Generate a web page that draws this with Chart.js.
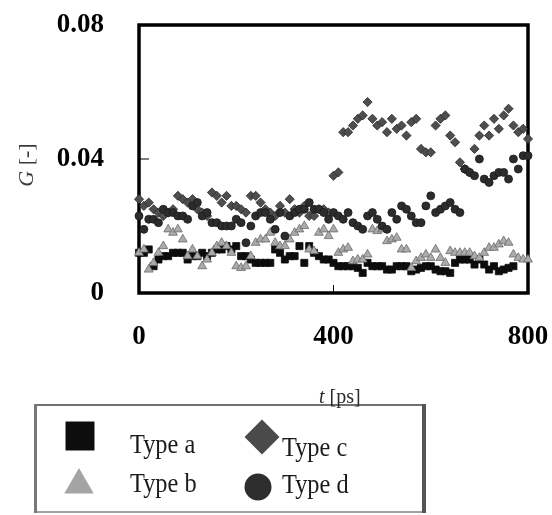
<!DOCTYPE html>
<html lang="en">
<head>
<meta charset="UTF-8">
<title>G vs t</title>
<script src="https://cdn.jsdelivr.net/npm/chart.js"></script>
<style>
    html, body { margin: 0; padding: 0; background: #fff; }
    #wrap { width: 552px; height: 515px; }
</style>
</head>
<body>
<div id="wrap"><canvas id="chart"></canvas></div>
<script>
// time axis [ps], one sample every 10 ps
const tps = [0,10,20,30,40,50,60,70,80,90,100,110,120,130,140,150,160,170,180,190,
    200,210,220,230,240,250,260,270,280,290,300,310,320,330,340,350,360,370,380,390,
    400,410,420,430,440,450,460,470,480,490,500,510,520,530,540,550,560,570,580,590,
    600,610,620,630,640,650,660,670,680,690,700,710,720,730,740,750,760,770,780,790,800];

// G [-] (type a stops at 770 ps)
const typeA = [0.012,0.012,0.013,0.008,0.010,0.011,0.011,0.012,0.012,0.012,
    0.010,0.011,0.011,0.012,0.011,0.012,0.013,0.013,0.014,0.013,
    0.014,0.011,0.011,0.010,0.009,0.009,0.009,0.009,0.013,0.012,
    0.010,0.011,0.011,0.014,0.009,0.014,0.012,0.011,0.010,0.010,
    0.009,0.008,0.008,0.008,0.008,0.0075,0.006,0.009,0.008,0.008,
    0.008,0.007,0.007,0.008,0.008,0.008,0.0065,0.007,0.0075,0.008,
    0.008,0.007,0.0065,0.0065,0.006,0.009,0.010,0.010,0.010,0.0085,
    0.010,0.0085,0.007,0.008,0.0065,0.007,0.0075,0.008];
const typeB = [0.012,0.013,0.007,0.009,0.012,0.014,0.019,0.018,0.019,0.016,
    0.011,0.013,0.011,0.008,0.010,0.012,0.014,0.015,0.014,0.012,
    0.008,0.0075,0.008,0.011,0.015,0.016,0.016,0.018,0.015,0.014,
    0.014,0.016,0.018,0.019,0.020,0.013,0.0125,0.018,0.019,0.017,
    0.019,0.012,0.013,0.0135,0.0095,0.010,0.010,0.0115,0.019,0.0185,
    0.019,0.0155,0.016,0.0165,0.013,0.013,0.0075,0.0095,0.0105,0.0115,
    0.0105,0.013,0.0105,0.009,0.0125,0.012,0.012,0.012,0.012,0.011,
    0.0105,0.012,0.0135,0.0135,0.0145,0.0155,0.015,0.0115,0.0105,0.010,0.010];
const typeC = [0.028,0.026,0.027,0.025,0.024,0.023,0.024,0.025,
    0.029,0.028,0.027,0.028,0.025,0.024,0.023,0.030,
    0.029,0.027,0.029,0.026,0.026,0.025,0.024,0.029,
    0.029,0.027,0.025,0.024,0.023,0.026,0.024,0.028,
    0.025,0.024,0.026,0.023,0.023,0.025,0.025,0.024,
    0.035,0.036,0.048,0.048,0.050,0.052,0.053,0.057,
    0.052,0.050,0.051,0.048,0.052,0.049,0.050,0.047,
    0.051,0.052,0.043,0.042,0.042,0.050,0.052,0.053,
    0.047,0.045,0.039,0.037,0.036,0.043,0.047,0.050,
    0.047,0.052,0.049,0.053,0.055,0.050,0.048,0.049,0.046];
const typeD = [0.023,0.019,0.022,0.022,0.021,0.025,0.024,0.024,
    0.023,0.023,0.022,0.026,0.027,0.023,0.024,0.021,
    0.021,0.020,0.020,0.020,0.022,0.021,0.015,0.020,
    0.023,0.024,0.024,0.022,0.019,0.024,0.017,0.023,
    0.024,0.025,0.025,0.027,0.025,0.025,0.024,0.022,
    0.024,0.023,0.022,0.024,0.021,0.020,0.019,0.023,
    0.024,0.022,0.020,0.019,0.024,0.022,0.026,0.025,
    0.023,0.021,0.021,0.026,0.029,0.024,0.025,0.026,
    0.027,0.025,0.024,0.037,0.036,0.035,0.040,0.034,
    0.033,0.035,0.036,0.036,0.034,0.040,0.037,0.041,0.041];

const xTicks = [0, 400, 800];
const yTicks = [0, 0.04, 0.08];
const seriesNames = ['Type a', 'Type b', 'Type c', 'Type d'];

const serif = 'Liberation Serif, Times New Roman, serif';

function pts(vals) {
    return vals.map((g, i) => ({ x: tps[i], y: g }));
}

const styles = [
    { pointStyle: 'rect', r: 5, bg: '#0d0d0d', bd: '#0d0d0d', order: 4 },
    { pointStyle: 'triangle', r: 5.1, bg: '#ababab', bd: '#6a6a6a', order: 3 },
    { pointStyle: 'rectRot', r: 4.6, bg: '#4e4e4e', bd: '#2a2a2a', order: 2 },
    { pointStyle: 'circle', r: 4, bg: '#2c2c2c', bd: '#1a1a1a', order: 1 }
];
const series = [typeA, typeB, typeC, typeD];

// frame + inward tick marks
const framePlugin = {
    id: 'frame',
    beforeDatasetsDraw(chart) {
        const { ctx, chartArea: a, scales } = chart;
        ctx.save();
        ctx.strokeStyle = '#000';
        ctx.lineWidth = 1;
        const yMid = scales.y.getPixelForValue(0.04);
        ctx.beginPath();
        ctx.moveTo(a.left, yMid);
        ctx.lineTo(a.left + 10, yMid);
        const xMid = scales.x.getPixelForValue(400);
        ctx.moveTo(xMid, a.bottom);
        ctx.lineTo(xMid, a.bottom - 8);
        ctx.stroke();
        ctx.lineWidth = 3.5;
        ctx.strokeRect(a.left, a.top, a.right - a.left, a.bottom - a.top);
        ctx.restore();
    },
    afterDraw(chart) {
        const ctx = chart.ctx;
        ctx.save();
        // y title: italic G + " [-]"
        ctx.fillStyle = '#3a3a3a';
        ctx.translate(33, 165);
        ctx.rotate(-Math.PI / 2);
        ctx.font = 'italic 22px ' + serif;
        const wG = ctx.measureText('G').width;
        ctx.font = '22px ' + serif;
        const wR = ctx.measureText(' [-]').width;
        let x0 = -(wG + wR) / 2;
        ctx.textBaseline = 'alphabetic';
        ctx.font = 'italic 22px ' + serif;
        ctx.fillText('G', x0, 0);
        ctx.font = '22px ' + serif;
        ctx.fillText(' [-]', x0 + wG, 0);
        ctx.restore();

        // legend box
        ctx.save();
        ctx.strokeStyle = '#707070';
        ctx.lineWidth = 2;
        ctx.beginPath(); ctx.moveTo(34, 405); ctx.lineTo(426, 405); ctx.stroke();
        ctx.strokeStyle = '#a0a0a0';
        ctx.beginPath(); ctx.moveTo(34, 512); ctx.lineTo(426, 512); ctx.stroke();
        ctx.lineWidth = 3;
        ctx.strokeStyle = '#777';
        ctx.beginPath(); ctx.moveTo(35.5, 404); ctx.lineTo(35.5, 513); ctx.stroke();
        ctx.lineWidth = 4;
        ctx.strokeStyle = '#555';
        ctx.beginPath(); ctx.moveTo(424, 404); ctx.lineTo(424, 513); ctx.stroke();

        // x title: italic t + " [ps]"
        ctx.fillStyle = '#2a2a2a';
        ctx.font = 'italic 20px ' + serif;
        ctx.fillText('t', 319, 403);
        const wt = ctx.measureText('t').width;
        ctx.font = '20px ' + serif;
        ctx.fillText(' [ps]', 319 + wt, 403);

        const marks = [
            { x: 80, y: 436, r: 20.5 },
            { x: 79, y: 485, r: 17 },
            { x: 262, y: 437, r: 17.5 },
            { x: 258, y: 487, r: 13.5 }
        ];
        const labels = [
            { x: 130, y: 453 },
            { x: 130, y: 492 },
            { x: 282, y: 456 },
            { x: 282, y: 493 }
        ];
        const legendFill = ['#0d0d0d', '#a4a4a4', '#4a4a4a', '#2e2e2e'];
        marks.forEach((m, i) => {
            ctx.fillStyle = legendFill[i];
            ctx.strokeStyle = styles[i].bd;
            Chart.helpers.drawPoint(ctx, {
                pointStyle: styles[i].pointStyle, rotation: 0, radius: m.r, borderWidth: 0
            }, m.x, m.y);
        });
        ctx.fillStyle = '#1a1a1a';
        ctx.font = '28px ' + serif;
        labels.forEach((l, i) => {
            ctx.save();
            ctx.translate(l.x, l.y);
            ctx.scale(0.87, 1);
            ctx.fillText(seriesNames[i], 0, 0);
            ctx.restore();
        });
        ctx.restore();
    }
};

new Chart(document.getElementById('chart'), {
    type: 'scatter',
    data: {
        datasets: series.map((vals, i) => ({
            label: seriesNames[i],
            data: pts(vals),
            pointStyle: styles[i].pointStyle,
            pointRadius: styles[i].r,
            pointHoverRadius: styles[i].r,
            backgroundColor: styles[i].bg,
            borderColor: styles[i].bd,
            borderWidth: 0.8,
            order: styles[i].order,
            clip: false
        }))
    },
    options: {
        responsive: true,
        maintainAspectRatio: false,
        animation: false,
        devicePixelRatio: 1,
        layout: { padding: { top: 25, right: 24, left: 0, bottom: 0 } },
        plugins: { legend: { display: false }, tooltip: { enabled: false } },
        scales: {
            x: {
                type: 'linear', min: 0, max: 800,
                afterBuildTicks: s => { s.ticks = xTicks.map(v => ({ value: v })); },
                ticks: {
                    font: { family: serif, size: 27, weight: 'bold' },
                    color: '#000', padding: 20, maxRotation: 0
                },
                grid: { display: false },
                border: { display: false },
                afterFit: s => {
                    s.height = 222;
                    s.paddingLeft = 0;
                    s.paddingRight = 0;
                }
            },
            y: {
                min: 0, max: 0.08,
                afterBuildTicks: s => { s.ticks = yTicks.map(v => ({ value: v })); },
                ticks: {
                    font: { family: serif, size: 27, weight: 'bold' },
                    color: '#000', padding: 27,
                    callback: v => v === 0 ? '0' : v.toFixed(2)
                },
                grid: { display: false },
                border: { display: false },
                afterFit: s => {
                    s.width = 139;
                    s.paddingTop = 0;
                    s.paddingBottom = 0;
                }
            }
        }
    },
    plugins: [framePlugin]
});
</script>
</body>
</html>
